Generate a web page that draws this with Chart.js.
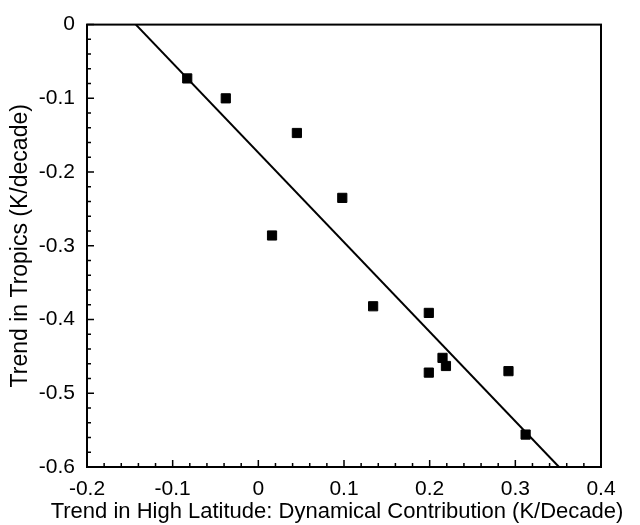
<!DOCTYPE html>
<html>
<head>
<meta charset="utf-8">
<script src="https://cdn.jsdelivr.net/npm/chart.js@4.4.0/dist/chart.umd.min.js"></script>
<style>
  html, body { margin: 0; padding: 0; background: #fff; }
  #wrap { width: 640px; height: 525px; }
</style>
</head>
<body>
<div id="wrap"><canvas id="myChart" width="640" height="525"></canvas></div>
<script>
    // scatter values
    const highLat = [-0.083, -0.038, 0.045, 0.098, 0.016, 0.134, 0.199, 0.215, 0.219, 0.199, 0.292, 0.312];
    const tropics = [-0.073, -0.100, -0.147, -0.235, -0.286, -0.382, -0.391, -0.452, -0.463, -0.472, -0.470, -0.556];
    // fitted line end points
    const fitX = [-0.143, 0.351];
    const fitY = [0, -0.6];
    // axis ticks
    const xTicks = [-0.2, -0.1, 0, 0.1, 0.2, 0.3, 0.4];
    const yTicks = [0, -0.1, -0.2, -0.3, -0.4, -0.5, -0.6];
    const xTitle = 'Trend in High Latitude: Dynamical Contribution (K/Decade)';
    const yTitle = 'Trend in Tropics (K/decade)';

    const fontFam = "'Liberation Sans', Arial, Helvetica, sans-serif";

    // box around the plot, inward tick marks, and the x title
    // (x title is wider than the plot, so the scale title would squash it)
    const frame = {
        id: 'frame',
        afterDatasetsDraw(chart) {
            const ctx = chart.ctx;
            const a = chart.chartArea;
            const xs = chart.scales.x, ys = chart.scales.y;
            ctx.save();
            ctx.strokeStyle = '#000';
            ctx.lineWidth = 2;
            ctx.strokeRect(a.left, a.top, a.right - a.left, a.bottom - a.top);
            ctx.lineWidth = 1.5;
            ctx.beginPath();
            for (let i = 0; i <= 30; i++) {
                let v = -0.2 + i * 0.02;
                let px = xs.getPixelForValue(v);
                let len = (i % 5 === 0) ? 7 : 4;
                ctx.moveTo(px, a.bottom);
                ctx.lineTo(px, a.bottom - len);
            }
            for (let i = 0; i <= 30; i++) {
                let v = -i * 0.02;
                let py = ys.getPixelForValue(v);
                let len = (i % 5 === 0) ? 7 : 4;
                ctx.moveTo(a.left, py);
                ctx.lineTo(a.left + len, py);
            }
            ctx.stroke();

            ctx.fillStyle = '#000';
            ctx.font = "22px " + fontFam;
            ctx.textAlign = 'center';
            ctx.textBaseline = 'middle';
            ctx.fillText(xTitle, (a.left + a.right) / 2 - 7, chart.height - 13);
            ctx.restore();
        }
    };

    const fmt = v => Math.abs(v) < 1e-9 ? '0' : v.toFixed(1);

    let ctx = document.getElementById('myChart').getContext('2d');
    let chart = new Chart(ctx, {
        type: 'scatter',
        data: {
            datasets: [{
                label: 'models',
                data: highLat.map((v, i) => ({x: v, y: tropics[i]})),
                pointStyle: 'rect',
                pointRadius: 6.5,
                pointBorderWidth: 1,
                backgroundColor: '#000',
                borderColor: '#000'
            }, {
                type: 'line',
                label: 'fit',
                data: fitX.map((v, i) => ({x: v, y: fitY[i]})),
                borderColor: '#000',
                borderWidth: 2,
                pointRadius: 0,
                fill: false
            }]
        },
        options: {
            responsive: false,
            animation: false,
            layout: { padding: { top: 22, right: 39, left: 0, bottom: 0 } },
            plugins: { legend: { display: false }, tooltip: { enabled: false } },
            scales: {
                x: {
                    type: 'linear',
                    min: -0.2, max: 0.4,
                    afterBuildTicks: s => { s.ticks = xTicks.map(v => ({value: v})); },
                    afterFit: s => { s.height = 58; },
                    grid: { display: false, drawTicks: false },
                    border: { display: false },
                    ticks: {
                        callback: fmt, color: '#000', padding: 10, maxRotation: 0,
                        font: { family: fontFam, size: 21 }
                    },
                    title: { display: false }
                },
                y: {
                    type: 'linear',
                    min: -0.6, max: 0,
                    afterBuildTicks: s => { s.ticks = yTicks.map(v => ({value: v})); },
                    afterFit: s => { s.width = 87; },
                    grid: { display: false, drawTicks: false },
                    border: { display: false },
                    ticks: {
                        callback: fmt, color: '#000', padding: 12,
                        font: { family: fontFam, size: 21 }
                    },
                    title: {
                        display: true,
                        text: yTitle,
                        color: '#000', padding: { top: 7, bottom: 0 },
                        font: { family: fontFam, size: 23 }
                    }
                }
            }
        },
        plugins: [frame]
    });
</script>
</body>
</html>
